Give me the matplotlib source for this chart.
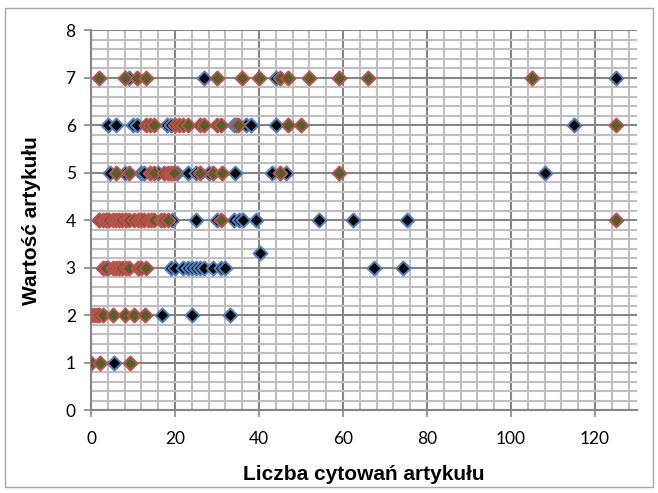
import matplotlib
matplotlib.use('Agg')
import matplotlib.pyplot as plt
from matplotlib.patches import Rectangle
from matplotlib.ticker import MultipleLocator

# seria 1 (niebieska obwódka, czarne wypełnienie)
s1_x = [9, 27, 44, 125,
        4, 6, 10, 11, 18, 19, 34, 34.5, 37, 38, 44, 115,
        4.5, 8, 12, 12.7, 16, 20.5, 23, 25, 28, 34.3, 43, 46.4, 108,
        1.8, 19.4, 25, 30, 34, 35.2, 36.3, 39.3, 54.4, 62.3, 75.3,
        4, 19, 20, 22, 23, 24, 25, 26, 27, 29, 31, 32, 67.4, 74.4, 40.2,
        17, 24, 33,
        5.5]
s1_y = [7, 7, 7, 7,
        6, 6, 6, 6, 6, 6, 6, 6, 6, 6, 6, 6,
        5, 5, 5, 5, 5, 5, 5, 5, 5, 5, 5, 5, 5,
        4, 4, 4, 4, 4, 4, 4, 4, 4, 4, 4,
        3, 3, 3, 3, 3, 3, 3, 3, 3, 3, 3, 3, 3, 3, 3.3,
        2, 2, 2,
        1]

# seria 2 (czerwona obwódka, zielone wypełnienie)
s2_x = [2, 8, 11, 13, 30, 36, 40, 45, 47, 52, 59, 66, 105,
        13, 14, 15, 20, 21, 22, 23, 26, 27, 30, 31, 35, 47, 50, 125,
        6, 9, 14, 15, 17.5, 18.3, 19, 19.7, 26, 29, 31.3, 45, 59,
        2, 2.8, 3.6, 4.4, 5.2, 6, 6.7, 7.5, 8.3, 9.1, 10.2, 11.1, 11.9,
        12.7, 13.5, 14.3, 15.1, 16.7, 17.5, 18.3, 31, 125,
        2.8, 3.6, 5.2, 6, 6.7, 7.5, 8.3, 9.1, 11.1, 12, 13.1,
        0, 0.6, 1.4, 2, 2.8, 5.2, 8.1, 10.2, 12.9,
        0, 2.1, 9.3]
s2_y = [7] * 13 + [6] * 15 + [5] * 13 + [4] * 22 + [3] * 11 + [2] * 9 + [1] * 3

fig = plt.figure(figsize=(6.58, 4.93), dpi=100)
ax = fig.add_axes([0.1383, 0.168, 0.8297, 0.771])

ax.scatter(s1_x, s1_y, marker='D', s=50, facecolor='black', edgecolor='#4F81BD',
           linewidths=1.5, zorder=3)
ax.scatter(s2_x, s2_y, marker='D', s=50, facecolor='#4F6228', edgecolor='#C0504D',
           linewidths=1.5, zorder=4)

ax.set_xlim(0, 130)
ax.set_ylim(0, 8)
ax.xaxis.set_major_locator(MultipleLocator(20))
ax.xaxis.set_minor_locator(MultipleLocator(4))
ax.yaxis.set_major_locator(MultipleLocator(1))
ax.yaxis.set_minor_locator(MultipleLocator(0.2))

ax.grid(which='minor', color='#BFBFBF', linewidth=1.5, zorder=0)
ax.grid(which='major', color='#868686', linewidth=1.5, zorder=1)
ax.set_axisbelow(True)

for side in ['top', 'right']:
    ax.spines[side].set_visible(False)
for side in ['left', 'bottom']:
    ax.spines[side].set_color('#868686')
    ax.spines[side].set_linewidth(1.5)

ax.tick_params(which='major', direction='out', length=5, width=1.2, color='#868686',
               labelsize=12.5)
ax.tick_params(axis='x', pad=10)
ax.tick_params(axis='y', pad=6)
ax.tick_params(which='minor', length=0)
for lab in ax.get_xticklabels() + ax.get_yticklabels():
    lab.set_fontfamily('Lato')

ax.set_xlabel('Liczba cytowań artykułu', fontsize=15, fontweight='bold',
              family='Liberation Sans', labelpad=13)
ax.set_ylabel('Wartość artykułu', fontsize=15, fontweight='bold',
              family='Liberation Sans', labelpad=18)

fig.patches.append(Rectangle((0.008, 0.012), 0.984, 0.972, transform=fig.transFigure,
                             fill=False, edgecolor='#A6A6A6', linewidth=1))

fig.savefig('out.png', dpi=100)
